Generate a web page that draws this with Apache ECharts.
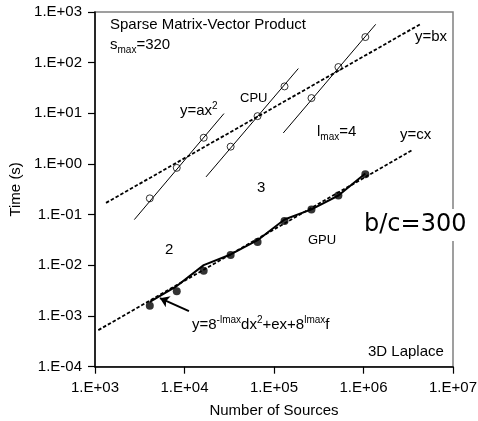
<!DOCTYPE html>
<html>
<head>
<meta charset="utf-8">
<script src="https://cdn.jsdelivr.net/npm/echarts@6/dist/echarts.min.js"></script>
<style>html,body{margin:0;padding:0;background:#fff}#c{width:478px;height:421px}</style>
</head>
<body>
<div id="c"></div>
<script>
// ---- data ----
const nSources = [4096, 8192, 16384, 32768, 65536, 131072, 262144, 524288, 1048576];
const cpuTime  = [0.21, 0.84, 3.3, 2.2, 8.8, 34, 20, 82, 320];
const gpuTime  = [0.0016, 0.0031, 0.0078, 0.016, 0.029, 0.075, 0.127, 0.24, 0.63];
const gpuModel = [0.0019, 0.0039, 0.0101, 0.0164, 0.0314, 0.0804, 0.127, 0.239, 0.65];
// y = a x^2 fits, one per lmax (endpoints)
const fitA1X = [2750, 27600],   fitA1Y = [0.080, 9.9];
const fitA2X = [17400, 187000], fitA2Y = [0.557, 76.6];
const fitA3X = [127000, 1368000], fitA3Y = [4.1, 571];
// y = b x and y = c x (endpoints)
const fitBX = [1327, 4280000], fitBY = [0.171, 571];
const fitCX = [1089, 3480000], fitCY = [0.000527, 1.87];
// arrow (tail -> head)
const arrowX = [11220, 5320], arrowY = [0.00125, 0.00225];
const xTickLabels = ['1.E+03','1.E+04','1.E+05','1.E+06','1.E+07'];
const yTickLabels = ['1.E-04','1.E-03','1.E-02','1.E-01','1.E+00','1.E+01','1.E+02','1.E+03'];

const F = 'Liberation Sans, Arial, sans-serif';
const pairs = (xs, ys) => xs.map((x, i) => [x, ys[i]]);

const chart = echarts.init(document.getElementById('c'), null, {renderer: 'canvas'});
const thin = (xs, ys) => ({type: 'line', data: pairs(xs, ys), symbol: 'none', silent: true,
  lineStyle: {color: '#000', width: 1}, z: 3});
const dashed = (xs, ys) => ({type: 'line', data: pairs(xs, ys), symbol: 'none', silent: true,
  lineStyle: {color: '#000', width: 1.8, type: [3.5, 2]}, z: 3});

const txt = (x, y, text, extra) => ({type: 'text', x: x, y: y, z: 10,
  style: Object.assign({text: text, font: '15px ' + F, fill: '#000', textVerticalAlign: 'middle', verticalAlign: 'middle'}, extra || {})});

const rich = {
  n: {fontSize: 15, fontFamily: F, color: '#000', lineHeight: 20, verticalAlign: 'middle'},
  sub: {fontSize: 10, fontFamily: F, color: '#000', lineHeight: 20, verticalAlign: 'bottom'},
  sup: {fontSize: 10, fontFamily: F, color: '#000', lineHeight: 20, verticalAlign: 'top'}
};
const rtxt = (x, y, text) => ({type: 'text', x: x, y: y, z: 10,
  style: {text: text, rich: rich, textVerticalAlign: 'middle', verticalAlign: 'middle'}});

chart.setOption({
  animation: false,
  grid: {left: 95, top: 12, right: 25, bottom: 54.3, containLabel: false, outerBoundsMode: 'none',
    show: true, borderColor: '#808080', borderWidth: 1.5, backgroundColor: 'transparent'},
  xAxis: {
    type: 'log', logBase: 10, min: 1e3, max: 1e7,
    name: 'Number of Sources', nameLocation: 'middle', nameGap: 37,
    nameTextStyle: {fontSize: 15, fontFamily: F, color: '#000'},
    axisLine: {lineStyle: {color: '#000', width: 1.5}},
    axisTick: {inside: false, length: 7, lineStyle: {color: '#000', width: 1.2}},
    minorTick: {show: false}, splitLine: {show: false},
    axisLabel: {fontSize: 15, fontFamily: F, color: '#000', margin: 14,
      formatter: v => xTickLabels[Math.round(Math.log10(v)) - 3]}
  },
  yAxis: {
    type: 'log', logBase: 10, min: 1e-4, max: 1e3,
    name: 'Time (s)', nameLocation: 'middle', nameGap: 68,
    nameTextStyle: {fontSize: 15, fontFamily: F, color: '#000'},
    axisLine: {lineStyle: {color: '#000', width: 1.5}},
    axisTick: {inside: false, length: 7, lineStyle: {color: '#000', width: 1.2}},
    splitLine: {show: false},
    axisLabel: {fontSize: 15, fontFamily: F, color: '#000', margin: 13,
      formatter: v => yTickLabels[Math.round(Math.log10(v)) + 4]}
  },
  series: [
    dashed(fitBX, fitBY),
    dashed(fitCX, fitCY),
    thin(fitA1X, fitA1Y),
    thin(fitA2X, fitA2Y),
    thin(fitA3X, fitA3Y),
    {type: 'line', data: pairs(nSources, gpuModel), symbol: 'none', silent: true,
      lineStyle: {color: '#000', width: 2}, z: 4},
    {type: 'scatter', data: pairs(nSources, cpuTime), symbol: 'circle', symbolSize: 7, silent: true,
      itemStyle: {color: 'rgba(0,0,0,0)', borderColor: '#000', borderWidth: 1}, z: 5},
    {type: 'scatter', data: pairs(nSources, gpuTime), symbol: 'circle', symbolSize: 8, silent: true,
      itemStyle: {color: '#000'}, z: 5},
    {type: 'lines', coordinateSystem: 'cartesian2d', silent: true, z: 6,
      symbol: ['none', 'arrow'], symbolSize: 9,
      lineStyle: {color: '#000', width: 2, opacity: 1},
      data: [{coords: pairs(arrowX, arrowY)}]}
  ],
  graphic: [
    txt(110, 25, 'Sparse Matrix-Vector Product'),
    rtxt(110, 45, '{n|s}{sub|max}{n|=320}'),
    rtxt(180, 111, '{n|y=ax}{sup|2}'),
    txt(240, 98, 'CPU', {font: '13px ' + F}),
    txt(415, 37, 'y=bx'),
    rtxt(317, 132, '{n|l}{sub|max}{n|=4}'),
    txt(400, 135, 'y=cx'),
    txt(257, 188, '3'),
    txt(165, 250, '2'),
    txt(308, 240, 'GPU', {font: '13px ' + F}),
    rtxt(192, 325, '{n|y=8}{sup|-lmax}{n|dx}{sup|2}{n|+ex+8}{sup|lmax}{n|f}'),
    txt(368, 352, '3D Laplace'),
    {type: 'text', x: 362, y: 225, z: 20,
      style: {text: 'b/c=300', font: '24px DejaVu Sans', fill: '#000', backgroundColor: '#fff',
        padding: [4, 2, 4, 2], textVerticalAlign: 'middle', verticalAlign: 'middle'}}
  ]
});
</script>
</body>
</html>
